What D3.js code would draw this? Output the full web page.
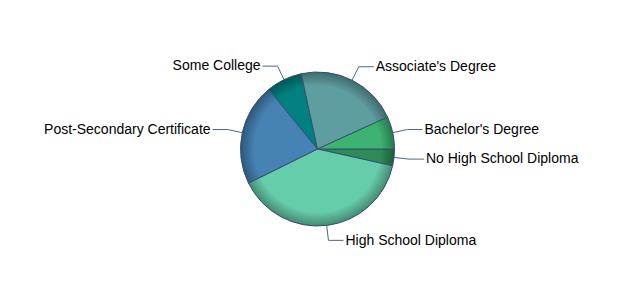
<!DOCTYPE html>
<html>
<head>
<meta charset="utf-8">
<script src="https://cdn.jsdelivr.net/npm/d3@7"></script>
<style>
  html, body { margin: 0; padding: 0; background: #fff; }
  svg { display: block; }
</style>
</head>
<body>
<div id="chart"></div>
<script>
const categories = ["No High School Diploma", "High School Diploma", "Post-Secondary Certificate", "Some College", "Associate's Degree", "Bachelor's Degree"];
const values = [3.5, 39.2, 21.4, 7.5, 21.6, 6.8];
const colors = ["#2E8B57", "#66CDAA", "#4682B4", "#008080", "#5F9EA0", "#3CB371"];

const W = 635, H = 300;
const cx = 317.5, cy = 149, R = 77;

const svg = d3.select("#chart").append("svg").attr("width", W).attr("height", H);
const defs = svg.append("defs");

const data = categories.map((c, i) => ({ name: c, value: values[i], color: colors[i], i }));

data.forEach(d => {
  const g = defs.append("radialGradient")
    .attr("id", "grad" + d.i)
    .attr("gradientUnits", "userSpaceOnUse")
    .attr("cx", 0).attr("cy", 0).attr("r", R);
  g.append("stop").attr("offset", 0).attr("stop-color", d.color);
  g.append("stop").attr("offset", 0.82).attr("stop-color", d.color);
  g.append("stop").attr("offset", 1).attr("stop-color", d3.color(d.color).darker(1.1));
});

const pie = d3.pie().value(d => d.value).sort(null)
  .startAngle(Math.PI / 2).endAngle(Math.PI / 2 + 2 * Math.PI);
const arcs = pie(data);
const arc = d3.arc().innerRadius(0).outerRadius(R);

const g = svg.append("g").attr("transform", `translate(${cx},${cy})`);

g.selectAll("path.slice").data(arcs).enter().append("path")
  .attr("class", "slice")
  .attr("d", arc)
  .attr("fill", d => `url(#grad${d.data.i})`)
  .attr("stroke", "#34506e")
  .attr("stroke-width", 1)
  .attr("stroke-linejoin", "round");

const lg = g.append("g");
arcs.forEach(d => {
  const a = (d.startAngle + d.endAngle) / 2;
  const sx = Math.sin(a), sy = -Math.cos(a);
  const ex = R * sx, ey = R * sy;
  const bx = (R + 15) * sx, by = (R + 15) * sy;
  const right = sx >= 0;
  const lx = bx + (right ? 15 : -15);
  lg.append("path")
    .attr("d", `M${lx},${by}L${bx},${by}L${ex},${ey}`)
    .attr("fill", "none")
    .attr("stroke", "#4f6584")
    .attr("stroke-width", 1);
  lg.append("text")
    .attr("x", lx + (right ? 2 : -2))
    .attr("y", by)
    .attr("dy", "0.3em")
    .attr("text-anchor", right ? "start" : "end")
    .attr("font-family", "Arial, 'Liberation Sans', sans-serif")
    .attr("font-size", "14px")
    .attr("fill", "#000")
    .text(d.data.name);
});
</script>
</body>
</html>
